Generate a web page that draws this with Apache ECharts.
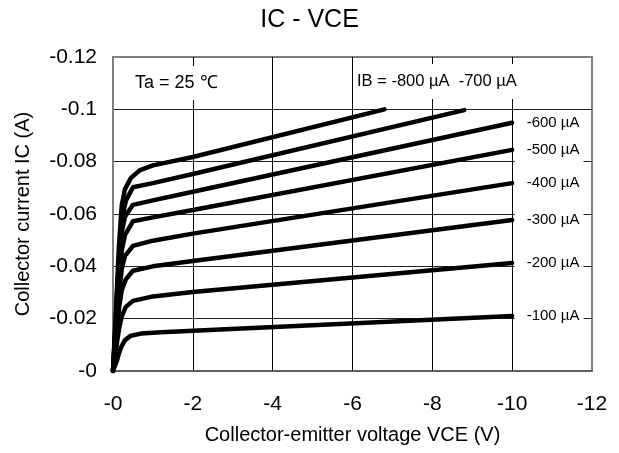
<!DOCTYPE html>
<html>
<head>
<meta charset="utf-8">
<script src="https://cdn.jsdelivr.net/npm/echarts@6/dist/echarts.min.js"></script>
<style>
html,body{margin:0;padding:0;background:#fff;}
#chart{width:619px;height:453px;}
</style>
</head>
<body>
<div id="chart"></div>
<script>
// ---- data ----
const xTicks = [-12, -10, -8, -6, -4, -2, 0];
const yTicks = [-0.12, -0.1, -0.08, -0.06, -0.04, -0.02, 0];

const ibLabels = ['-100 µA', '-200 µA', '-300 µA', '-400 µA', '-500 µA', '-600 µA', '-700 µA', '-800 µA'];

const vce100 = [0, -0.05, -0.1, -0.15, -0.2, -0.3, -0.45, -0.7, -1.2, -10];
const ic100  = [0, -0.002, -0.004, -0.0068, -0.009, -0.0118, -0.0135, -0.0143, -0.0148, -0.021];

const vce200 = [0, -0.05, -0.1, -0.15, -0.22, -0.32, -0.5, -1, -2, -10];
const ic200  = [0, -0.005, -0.011, -0.016, -0.021, -0.0245, -0.0268, -0.0285, -0.0302, -0.0413];

const vce300 = [0, -0.05, -0.1, -0.15, -0.22, -0.32, -0.5, -1, -2, -10];
const ic300  = [0, -0.008, -0.016, -0.024, -0.031, -0.035, -0.0383, -0.0400, -0.0420, -0.0577];

const vce400 = [0, -0.05, -0.1, -0.15, -0.22, -0.3, -0.5, -1, -2, -10];
const ic400  = [0, -0.010, -0.020, -0.030, -0.039, -0.044, -0.0478, -0.0498, -0.0525, -0.0718];

const vce500 = [0, -0.05, -0.1, -0.15, -0.22, -0.3, -0.5, -1, -2, -10];
const ic500  = [0, -0.011, -0.023, -0.035, -0.046, -0.052, -0.0572, -0.0587, -0.0615, -0.0845];

const vce600 = [0, -0.05, -0.1, -0.15, -0.22, -0.3, -0.5, -1, -2, -10];
const ic600  = [0, -0.013, -0.027, -0.040, -0.053, -0.059, -0.0635, -0.0652, -0.0685, -0.0949];

const vce700 = [0, -0.05, -0.1, -0.15, -0.22, -0.32, -0.5, -1, -2, -8.8];
const ic700  = [0, -0.014, -0.029, -0.043, -0.058, -0.065, -0.0702, -0.0718, -0.0753, -0.0997];

const vce800 = [0, -0.05, -0.1, -0.15, -0.22, -0.3, -0.45, -0.68, -1, -2, -6.8];
const ic800  = [0, -0.016, -0.032, -0.048, -0.0634, -0.0695, -0.0738, -0.0768, -0.0786, -0.0818, -0.100];

const curves = [
  [vce100, ic100], [vce200, ic200], [vce300, ic300], [vce400, ic400],
  [vce500, ic500], [vce600, ic600], [vce700, ic700], [vce800, ic800]
];

const FONT = '"Liberation Sans", Arial, sans-serif';

function fmt(v) {
  if (Math.abs(v) < 1e-9) return '-0';
  return String(parseFloat(v.toFixed(2)));
}

const series = curves.map(function (c, k) {
  const vx = c[0], vy = c[1];
  const data = vx.map(function (x, i) {
    const item = { value: [x, vy[i]] };
    if (i === vx.length - 1 && k < 6) {
      item.label = {
        show: true,
        position: 'right',
        distance: 2,
        formatter: ibLabels[k],
        color: '#000',
        fontSize: 15,
        fontFamily: FONT,
        backgroundColor: '#fff',
        padding: [5, 4, 5, 12]
      };
    }
    return item;
  });
  return {
    type: 'line',
    name: ibLabels[k],
    data: data,
    showSymbol: true,
    symbol: 'circle',
    symbolSize: 1,
    itemStyle: { color: '#000' },
    label: { show: false },
    smooth: false,
    lineStyle: { color: '#000', width: 4.5, cap: 'round', join: 'round' },
    emphasis: { disabled: true },
    z: 3,
    animation: false
  };
});

const chart = echarts.init(document.getElementById('chart'), null, { renderer: 'canvas' });
chart.setOption({
  backgroundColor: '#fff',
  animation: false,
  textStyle: { fontFamily: FONT },
  title: {
    text: 'IC - VCE',
    left: 'center',
    top: 3,
    textStyle: { fontSize: 25, fontWeight: 'normal', color: '#000', fontFamily: FONT }
  },
  grid: {
    left: 113, right: 27, top: 57, bottom: 82,
    show: true, borderColor: '#808080', borderWidth: 2, backgroundColor: 'transparent'
  },
  xAxis: {
    type: 'value',
    min: -12, max: 0, interval: 2, inverse: true,
    name: 'Collector-emitter voltage VCE (V)',
    nameLocation: 'middle',
    nameGap: 54,
    nameTextStyle: { fontSize: 20, color: '#000', fontFamily: FONT },
    axisLine: { show: true, onZero: false, lineStyle: { color: '#606060', width: 2 } },
    axisTick: { show: false },
    axisLabel: { fontSize: 21, color: '#000', margin: 23, formatter: fmt, fontFamily: FONT },
    splitLine: { show: true, lineStyle: { color: ['#808080', '#000', '#000', '#000', '#000', '#000', '#808080'], width: 1 } }
  },
  yAxis: {
    type: 'value',
    min: -0.12, max: 0, interval: 0.02, inverse: true,
    name: 'Collector current IC (A)',
    nameLocation: 'middle',
    nameGap: 80,
    nameTextStyle: { fontSize: 20, color: '#000', fontFamily: FONT },
    axisLine: { show: true, onZero: false, lineStyle: { color: '#808080', width: 2 } },
    axisTick: { show: false },
    axisLabel: { fontSize: 21, color: '#000', margin: 16, formatter: fmt, fontFamily: FONT },
    splitLine: { show: true, lineStyle: { color: ['#808080', '#222', '#222', '#222', '#222', '#222', '#808080'], width: 1 } }
  },
  graphic: [
    {
      type: 'text', left: 125, top: 66, z: 10,
      style: {
        text: 'Ta = 25 ℃', fill: '#000', font: '18px ' + FONT,
        backgroundColor: '#fff', padding: [8, 10, 8, 10]
      }
    },
    {
      type: 'text', left: 353, top: 64, z: 10,
      style: {
        text: 'IB = -800 µA  -700 µA', fill: '#000', font: '16.5px ' + FONT,
        backgroundColor: '#fff', padding: [9, 6, 9, 4]
      }
    }
  ],
  series: series
});
</script>
</body>
</html>
